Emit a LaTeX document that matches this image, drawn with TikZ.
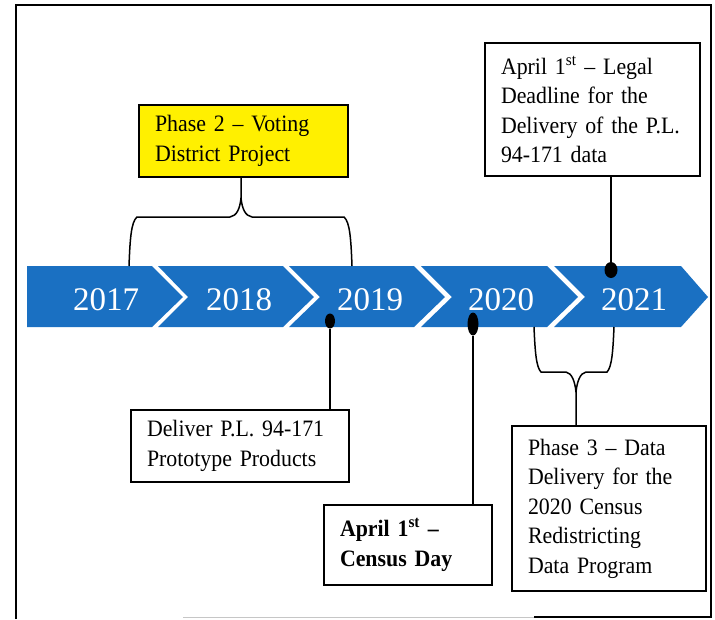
\documentclass[tikz,border=0pt]{standalone}
\usepackage{fontspec}
\setmainfont{Liberation Serif}[FakeStretch=0.93]
\newfontfamily\yearfont{Liberation Serif}
\usetikzlibrary{shapes.geometric}
\definecolor{bandblue}{RGB}{26,112,194}
\definecolor{phaseyellow}{RGB}{255,240,0}
\begin{document}
\begin{tikzpicture}[x=1pt,y=-1pt,
  box/.style={draw=black,line width=1.8pt,fill=white,inner xsep=16pt,inner ysep=0pt,
    align=left,font=\fontsize{23.5}{29.5}\selectfont,anchor=center},
  seg/.style={fill=bandblue,draw=none},
  year/.style={text=white,font=\yearfont\fontsize{33}{33}\selectfont,inner sep=0pt},
  stem/.style={line width=1.5pt,draw=black},
  dot/.style={ellipse,fill=black,draw=none,inner sep=0pt}]
\useasboundingbox (0,0) rectangle (715,619);
% frame
\draw[line width=2.5pt] (16,619) -- (16,5) -- (711,5) -- (711,617) -- (534,617);
\draw[gray!45,line width=1pt] (534,617) -- (183,617);
% band
\fill[seg] (27,266) -- (152,266) -- (183,297) -- (152,327) -- (27,327) -- cycle;
\fill[seg] (158,266) -- (283,266) -- (314,297) -- (283,327) -- (158,327) -- (188,297) -- cycle;
\fill[seg] (289,266) -- (414,266) -- (445,297) -- (414,327) -- (289,327) -- (320,297) -- cycle;
\fill[seg] (421,266) -- (547,266) -- (578,297) -- (547,327) -- (421,327) -- (452,297) -- cycle;
\fill[seg] (554,266) -- (681,266) -- (708,297) -- (681,327) -- (554,327) -- (585,297) -- cycle;
\node[year] (y17) at (106,300) {2017};
\node[year] (y18) at (239,300) {2018};
\node[year] (y19) at (370,300) {2019};
\node[year] (y20) at (501,300) {2020};
\node[year] (y21) at (634,300) {2021};
% boxes
\node[box,fill=phaseyellow,text width=177pt,minimum height=72pt] (p2) at (243.5,141)
  {Phase 2 -- Voting\\District Project};
\node[box,text width=183pt,minimum height=133pt] (tr) at (592.5,109.5)
  {April 1\textsuperscript{st} -- Legal\\Deadline for the\\Delivery of the P.L.\\94-171 data};
\node[box,text width=186pt,minimum height=72pt] (dl) at (240,446)
  {Deliver P.L. 94-171\\Prototype Products};
\node[box,text width=136pt,minimum height=80pt,font=\bfseries\fontsize{23.5}{29.5}\selectfont] (cd) at (408,545)
  {April 1\textsuperscript{st} --\\Census Day};
\node[box,text width=162pt,minimum height=165pt] (p3) at (609,508.5)
  {Phase 3 -- Data\\Delivery for the\\2020 Census\\Redistricting\\Data Program};
% dots
\node[dot,minimum width=10pt,minimum height=15pt] (d19) at (330,321) {};
\node[dot,minimum width=11pt,minimum height=23pt] (d20) at (473,324) {};
\node[dot,minimum width=13pt,minimum height=16pt] (d21) at (611,270) {};
\draw[stem] (d19.south) -- (d19 |- dl.north);
\draw[stem] (d20.south) -- (d20 |- cd.north);
\draw[stem] (d21.north) -- (d21 |- tr.south);
% top brace
\coordinate (b2tip) at (241,198);
\draw[stem] (129,266) .. controls (130,240) and (131,222) .. (137,217) -- (230,217)
  .. controls (237,216) and (240,208) .. (b2tip) -- (b2tip |- p2.south);
\draw[stem] (352,266) .. controls (351,240) and (350,222) .. (344,217) -- (252,217)
  .. controls (245,216) and (242,208) .. (b2tip);
% bottom brace
\coordinate (b3tip) at (576,392);
\draw[stem] (534,327) .. controls (535,350) and (536,367) .. (541,372) -- (566,372)
  .. controls (572,373) and (575,382) .. (b3tip) -- (b3tip |- p3.north);
\draw[stem] (614,327) .. controls (613,350) and (612,367) .. (607,372) -- (586,372)
  .. controls (580,373) and (577,382) .. (b3tip);
\end{tikzpicture}
\end{document}
